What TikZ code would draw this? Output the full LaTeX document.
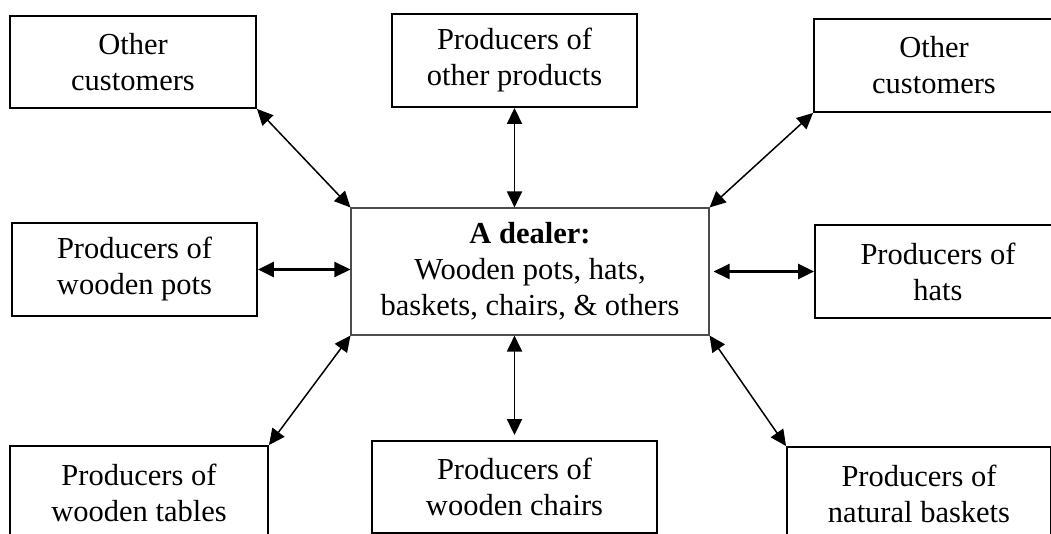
\documentclass[tikz,border=0pt]{standalone}
\usepackage{fontspec}
\setmainfont{Liberation Serif}
\usetikzlibrary{arrows.meta}
\begin{document}
\begin{tikzpicture}[x=1pt,y=-1pt,
  box/.style={draw=black,line width=1.9pt,align=center,inner sep=0pt,
    font=\fontsize{30.5}{36}\selectfont},
  dealerbox/.style={box,draw=black!70,line width=1.1pt},
  conn/.style={{Triangle[length=16pt,width=15pt]}-{Triangle[length=16pt,width=15pt]},line width=1.9pt},
  thinconn/.style={conn,line width=1.5pt},
  thickconn/.style={conn,line width=2.5pt}]
\useasboundingbox (0,0) rectangle (1051,534);
\clip (0,0) rectangle (1051,534);
\node[box,minimum width=246pt,minimum height=92pt] (tl) at (133,62) {Other\\customers};
\node[box,minimum width=245pt,minimum height=93pt] (tc) at (514.5,60.5) {Producers of\\other products};
\node[box,minimum width=240pt,minimum height=93pt] (tr) at (934,65.5) {Other\\customers};
\node[box,minimum width=245pt,minimum height=93pt] (lm) at (134.5,269.5) {Producers of\\wooden pots};
\node[dealerbox,minimum width=358pt,minimum height=127pt] (dealer) at (530,271.5) {\textbf{A dealer:}\\Wooden pots, hats,\\baskets, chairs, \& others};
\node[box,minimum width=246pt,minimum height=93pt] (rm) at (938,271.5) {Producers of\\hats};
\node[box,minimum width=258pt,minimum height=93pt] (bl) at (139,492.5) {Producers of\\wooden tables};
\node[box,minimum width=285pt,minimum height=92pt] (bc) at (514.5,487) {Producers of\\wooden chairs};
\node[box,minimum width=264pt,minimum height=93pt] (br) at (919,493.5) {Producers of\\natural baskets};
\draw[thinconn] (tl.south east) -- (dealer.north west);
\draw[conn] (tc.south) -- (tc.south |- dealer.north);
\draw[thinconn] (tr.south west) -- (dealer.north east);
\draw[thickconn] (lm.east) -- (lm.east -| dealer.west);
\draw[thickconn] ([xshift=4pt]dealer.east) -- (rm.west);
\draw[thinconn] (dealer.south west) -- (bl.north east);
\draw[conn,shorten >=5pt] (bc.north |- dealer.south) -- (bc.north);
\draw[thinconn] (dealer.south east) -- (br.north west);
\end{tikzpicture}
\end{document}
